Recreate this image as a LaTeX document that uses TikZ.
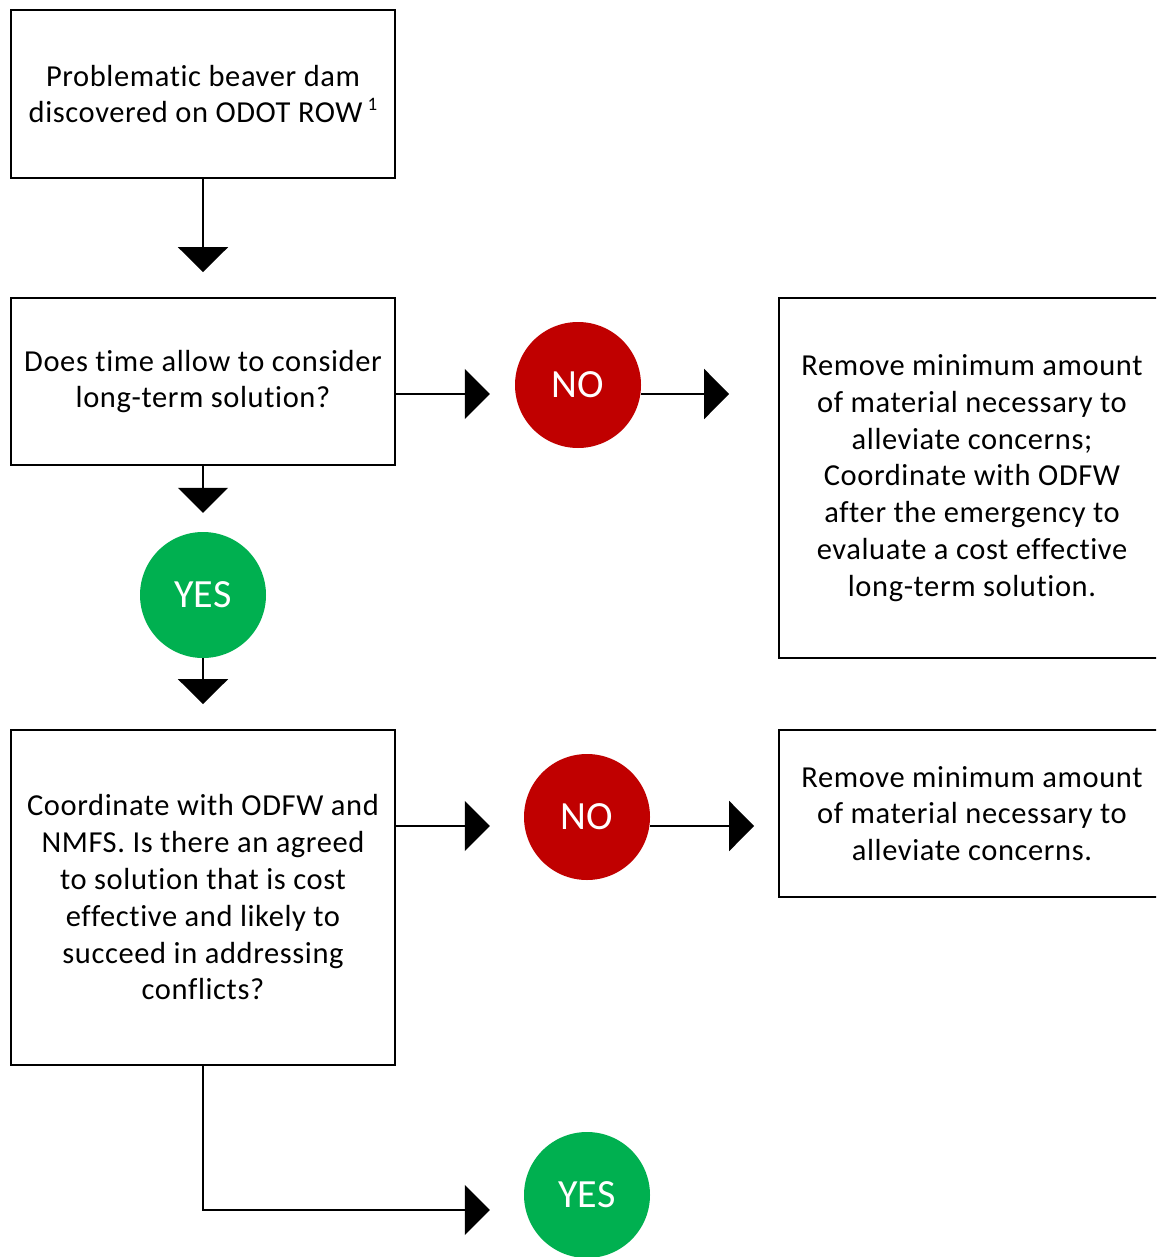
\documentclass[tikz,border=0pt]{standalone}
\usepackage{fontspec}
\setmainfont{Carlito}[Ligatures={NoCommon,NoDiscretionary,NoRare,NoContextual},Contextuals={NoAlternate}]
\usetikzlibrary{arrows.meta,calc}
\definecolor{nored}{HTML}{C00000}
\definecolor{yesgreen}{HTML}{00B050}
\begin{document}
\begin{tikzpicture}[x=1pt,y=-1pt,
  box/.style={draw, line width=1.8pt, minimum width=384pt, align=center, inner sep=0pt,
    font=\fontsize{30.5}{36.8}\selectfont\addfontfeatures{LetterSpace=2}},
  circ/.style={circle, minimum size=126pt, inner sep=0pt, text=white,
    font=\fontsize{40}{48}\selectfont},
  arr/.style={line width=1.8pt, -{Triangle[length=25pt,width=50pt]}}]
\clip (0,0) rectangle (1156,1257);
\fill[white] (0,0) rectangle (1156,1257);
\node[box, minimum height=168pt] (b1) at (203,94) {Problematic beaver dam\\discovered on ODOT ROW\,\raisebox{0.85ex}{\fontsize{19}{19}\selectfont 1}};
\node[box, minimum height=167pt] (b2) at (203,381.5) {Does time allow to consider\\long-term solution?};
\node[box, minimum width=386pt, minimum height=360pt] (b3) at (972,478) {Remove minimum amount\\of material necessary to\\alleviate concerns;\\Coordinate with ODFW\\after the emergency to\\evaluate a cost effective\\long-term solution.};
\node[box, minimum height=335pt] (b4) at (203,897.5) {Coordinate with ODFW and\\NMFS. Is there an agreed\\to solution that is cost\\effective and likely to\\succeed in addressing\\conflicts?};
\node[box, minimum width=386pt, minimum height=167pt] (b5) at (972,813.5) {Remove minimum amount\\of material necessary to\\alleviate concerns.};
\node[circ, fill=nored] (no1) at (578,385) {NO};
\node[circ, fill=yesgreen] (yes1) at (203,595) {YES};
\node[circ, fill=nored] (no2) at (587,817) {NO};
\node[circ, fill=yesgreen] (yes2) at (587,1195) {YES};
\draw[arr, shorten >=25pt] (b1) -- (b2);
\draw[arr, shorten >=19pt] (b2) -- (yes1);
\draw[arr, shorten >=25pt] (yes1) -- (b4);
\draw[arr, shorten >=25pt] ($(no1.west -| b2.east)+(0,9)$) -- ($(no1.west)+(0,9)$);
\draw[arr, shorten >=49pt] ($(no1.east)+(0,9)$) -- ($(no1.east -| b3.west)+(0,9)$);
\draw[arr, shorten >=34pt] ($(no2.west -| b4.east)+(0,9)$) -- ($(no2.west)+(0,9)$);
\draw[arr, shorten >=24pt] ($(no2.east)+(0,9)$) -- ($(no2.east -| b5.west)+(0,9)$);
\draw[arr, shorten >=34pt] (b4.south) |- ($(yes2.west)+(0,15)$);
\end{tikzpicture}
\end{document}
